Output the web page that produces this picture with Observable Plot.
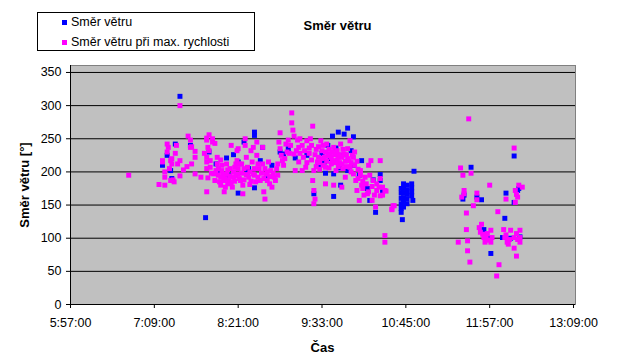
<!DOCTYPE html>
<html>
<head>
<meta charset="utf-8">
<script src="https://cdn.jsdelivr.net/npm/d3@7"></script>
<script src="https://cdn.jsdelivr.net/npm/@observablehq/plot@0.6"></script>
<style>
  html, body { margin: 0; padding: 0; background: #fff; }
  #wrap { position: relative; width: 631px; height: 360px; font-family: Arial, "Liberation Sans", sans-serif; color: #000; }
  #wrap svg { position: absolute; left: 0; top: 0; }
  .ov { position: absolute; white-space: nowrap; }
  .title { font-weight: bold; font-size: 13px; line-height: 15px; }
  .leg { font-size: 12.5px; line-height: 14px; }
  .mk { position: absolute; width: 5px; height: 5px; }
</style>
</head>
<body>
<div id="wrap"></div>
<script>
// Series names
const seriesNames = ["Směr větru", "Směr větru při max. rychlosti"];
const seriesColors = ["#0000FF", "#FF00FF"];

// X tick values (time of day) and Y tick values
const xTickLabels = ["5:57", "7:09", "8:21", "9:33", "10:45", "11:57", "13:09"];
const yTicks = [0, 50, 100, 150, 200, 250, 300, 350];

// Směr větru [time, degrees]
const smer = [
  ["7:31",314],["8:35",260],["8:35",255],["8:42",237],["8:21",168],["8:35",176],["8:11",221],["8:17",226],
  ["7:23",202],["7:20",225],["7:27",242],["8:02",212],["8:26",245],["8:40",217],["8:50",210],["9:10",221],
  ["9:00",227],["8:29",200],["8:09",192],["7:53",131],
  ["7:16",210],["7:24",190],["7:40",240],["7:56",230],["8:03",200],["8:13",195],["8:21",215],["8:30",205],
  ["8:45",190],["8:57",230],["9:04",235],["9:20",225],["9:33",228],["9:40",220],["9:50",225],["10:05",195],
  ["10:12",175],["10:25",170],["9:38",240],["9:45",236],["9:58",232],["9:30",210],["9:48",206],["9:36",198],
  ["9:55",266],["10:00",253],["9:52",257],["9:47",260],["9:42",254],["10:07",217],["10:23",196],["10:23",187],
  ["10:17",188],["10:09",180],["10:14",157],["10:19",139],["9:43",163],["9:49",180],["9:26",167],["9:35",215],
  ["10:00",210],["9:55",202],["9:43",197],
  ["10:41",175],["10:41",168],["10:41",160],["10:41",152],["10:41",145],["10:41",139],
  ["10:43",182],["10:43",175],["10:43",168],["10:43",161],["10:43",154],["10:43",147],
  ["10:46",180],["10:46",173],["10:46",166],["10:46",159],["10:46",152],
  ["10:50",182],["10:50",176],["10:50",170],["10:50",164],["10:42",128],["10:52",201],["10:51",157],
  ["11:41",207],["11:50",158],["11:46",162],["11:34",159],["11:52",113],["11:58",77],["12:11",168],["12:10",130],
  ["12:18",224],["12:21",172],["12:08",101],["12:23",102],["12:18",154],
  ["11:35",165],["11:55",100],["12:15",100],["12:22",175]
];

// Směr větru při max. rychlosti [time, degrees]
const smerMax = [
  ["6:47",195],
  ["7:13",181],["7:18",180],["7:16",215],["7:16",217],["7:18",192],["7:18",200],["7:20",242],["7:20",230],
  ["7:21",237],["7:23",187],["7:24",212],["7:24",220],["7:25",188],["7:23",217],["7:26",185],["7:28",240],
  ["7:31",300],["7:31",217],["7:31",194],["7:34",203],["7:37",208],["7:38",254],["7:40",248],["7:40",237],
  ["7:41",238],["7:44",231],["7:44",222],["7:41",212],["7:44",197],["7:49",192],["7:54",251],["7:56",256],
  ["7:54",248],["7:55",237],["7:54",222],["7:54",215],["7:54",205],["7:55",191],["7:54",170],["7:56",232],
  ["7:57",217],["7:59",245],["7:59",250],["8:01",243],["7:57",207],["8:00",197],["8:01",187],["8:03",222],
  ["8:03",212],["8:04",205],["8:06",192],["8:06",180],["8:07",202],["8:09",187],["8:09",170],["8:10",177],
  ["8:11",197],["8:11",212],["8:13",187],["8:14",205],["8:15",240],["8:16",177],["8:17",192],["8:19",212],
  ["8:20",232],["8:20",217],["8:21",235],["8:21",197],["8:23",187],["8:21",205],["8:24",212],["8:25",180],
  ["8:25",167],["8:27",250],["8:27",240],["8:28",222],["8:29",207],["8:30",192],["8:32",232],["8:33",215],
  ["8:34",237],["8:34",197],["8:36",185],["8:37",245],["8:37",225],["8:39",205],["8:40",187],["8:42",237],
  ["8:42",212],["8:43",170],["8:44",159],["8:45",197],["8:46",187],["8:47",215],["8:49",202],["8:50",177],
  ["8:52",192],["8:53",187],["8:54",205],["8:56",245],["8:57",259],["8:57",235],["8:59",217],["9:00",210],
  ["9:02",242],["9:03",230],["9:04",248],["9:07",289],["9:07",274],["9:08",263],["9:09",254],["9:09",227],
  ["9:10",202],["9:12",248],["9:13",237],["9:13",215],["9:14",250],
  ["8:02",202],["8:04",195],["8:05",185],["8:07",210],["8:08",196],["8:10",190],["8:12",182],["8:12",203],
  ["8:14",194],["8:15",184],["8:17",200],["8:18",186],["8:18",207],["8:19",194],["8:22",190],["8:22",212],
  ["8:24",198],["8:26",188],["8:26",205],["8:28",196],["8:31",200],["8:32",186],["8:35",205],["8:35",195],
  ["8:38",192],["8:38",212],["8:41",198],["8:43",190],["8:44",205],["8:46",200],["8:48",193],["8:51",198],
  ["8:55",212],["8:58",225],["9:01",220],["9:05",228],["9:06",240],["9:11",232],["9:14",228],["8:55",195],
  ["8:48",182],["8:31",181],["8:06",218],["7:58",198],["7:22",205],["7:27",228],["7:29",212],["7:52",228],
  ["9:25",269],["9:23",250],["9:20",247],["9:16",240],["9:17",222],["9:19",207],["9:16",202],["9:26",202],
  ["9:25",187],["9:26",172],["9:27",159],["9:26",152],["9:29",215],["9:32",247],["9:33",232],["9:35",222],
  ["9:36",207],["9:37",242],["9:40",227],["9:42",217],["9:43",237],["9:45",202],["9:47",222],["9:49",242],
  ["9:50",212],["9:52",227],["9:53",192],["9:55",235],["9:56",217],["9:57",247],["9:57",207],["9:59",225],
  ["9:18",232],["9:20",214],["9:22",228],["9:22",236],["9:24",218],["9:24",240],["9:27",226],["9:28",234],
  ["9:28",208],["9:30",222],["9:30",238],["9:31",214],["9:31",204],["9:33",220],["9:34",210],["9:34",240],
  ["9:36",230],["9:37",216],["9:38",224],["9:39",206],["9:39",234],["9:41",212],["9:41",222],["9:42",230],
  ["9:44",214],["9:44",226],["9:46",218],["9:46",232],["9:47",208],["9:48",226],["9:48",214],["9:50",222],
  ["9:51",234],["9:51",205],["9:53",216],["9:54",226],["9:54",208],["9:55",220],["9:58",214],["9:58",200],
  ["10:00",222],["10:01",210],["10:01",230],["10:03",216],["10:04",204],["10:04",190],["10:06",195],["10:08",186],
  ["10:00",197],["10:02",187],["10:03",172],["10:05",157],["10:06",202],["10:07",180],["10:10",192],["10:12",167],
  ["10:13",210],["10:15",217],["10:16",157],["10:17",187],["10:19",147],["10:20",172],["10:22",177],["10:23",217],
  ["10:23",190],["10:25",165],["10:27",172],["10:33",144],["10:35",149],["9:43",180],["9:36",182],["9:50",177],
  ["10:08",175],["10:09",165],["10:11",182],["10:13",170],["10:14",195],["10:16",178],["10:18",165],["10:20",182],
  ["10:25",177],["10:28",171],["10:23",164],["10:34",149],["10:33",143],["10:27",104],["10:27",94],
  ["11:32",206],["11:34",195],["11:35",172],["11:35",167],["11:33",162],["11:37",138],["11:37",113],["11:30",94],
  ["11:38",96],["11:38",81],["11:40",64],["11:41",198],["11:46",168],["11:46",158],["11:43",149],["11:50",121],
  ["11:48",116],["11:49",109],["11:52",101],["11:53",94],["11:55",107],["11:58",112],["11:59",101],["11:58",94],
  ["11:57",180],["12:04",140],["12:05",60],["12:03",43],["12:09",113],["12:10",101],["12:11",159],["12:12",94],
  ["12:13",91],["12:15",112],["12:18",101],["12:18",85],["12:20",73],["12:19",172],["12:21",162],["12:19",154],
  ["12:22",180],["12:25",177],["12:23",112],["12:23",101],["12:23",94],["12:18",236],["12:20",107],["11:39",280],
  ["11:51",106],["11:54",100],["11:56",97],["12:11",105],["12:14",98],["12:21",98],["12:20",166]
];

const toMin = s => { const [h, m] = s.split(":").map(Number); return h * 60 + m; };
const fmt = v => `${Math.floor(v / 60)}:${String(Math.round(v % 60)).padStart(2, "0")}:00`;
const xTicks = xTickLabels.map(toMin);
const d1 = smer.map(([t, v]) => ({t: toMin(t), v}));
const d2 = smerMax.map(([t, v]) => ({t: toMin(t), v}));

const chart = Plot.plot({
  width: 631,
  height: 360,
  marginLeft: 70,
  marginRight: 56,
  marginTop: 65,
  marginBottom: 56,
  style: {fontFamily: 'Arial, "Liberation Sans", sans-serif', fontSize: "12.5px", color: "#000", background: "transparent", overflow: "visible"},
  x: {domain: [357, 790.7], ticks: xTicks, tickFormat: fmt, tickSize: 4, tickPadding: 10, label: null},
  y: {domain: [0, 360.5], ticks: yTicks, tickSize: 4, tickPadding: 5, label: null},
  marks: [
    Plot.frame({fill: "#C0C0C0", stroke: "#808080"}),
    Plot.ruleY(yTicks, {stroke: "#000", strokeWidth: 1}),
    Plot.ruleX([357], {stroke: "#000", strokeWidth: 1}),
    Plot.dot(d1, {x: "t", y: "v", symbol: "square", r: 2.8, fill: seriesColors[0], stroke: null}),
    Plot.dot(d2, {x: "t", y: "v", symbol: "square", r: 2.8, fill: seriesColors[1], stroke: null})
  ]
});

const wrap = document.getElementById("wrap");
wrap.appendChild(chart);

function add(html, cls, css) {
  const d = document.createElement("div");
  d.className = cls;
  d.textContent = html;
  Object.assign(d.style, css);
  wrap.appendChild(d);
  return d;
}
// Title
add("Směr větru", "ov title", {left: "337.5px", top: "17.5px", transform: "translateX(-50%)"});
// Axis titles
add("Čas", "ov title", {left: "322.5px", top: "340px", transform: "translateX(-50%)"});
add("Směr větru [°]", "ov title", {left: "24.2px", top: "185px", transform: "translate(-50%,-50%) rotate(-90deg)"});
// Legend
const box = document.createElement("div");
Object.assign(box.style, {position: "absolute", left: "37px", top: "12px", width: "218px", height: "39px", border: "1px solid #000", boxSizing: "border-box", background: "#fff"});
wrap.appendChild(box);
seriesNames.forEach((name, i) => {
  const m = document.createElement("div");
  m.className = "mk";
  Object.assign(m.style, {left: "62px", top: (20 + i * 20) + "px", background: seriesColors[i]});
  wrap.appendChild(m);
  add(name, "ov leg", {left: "71px", top: (15.2 + i * 19.5) + "px"});
});
</script>
</body>
</html>
